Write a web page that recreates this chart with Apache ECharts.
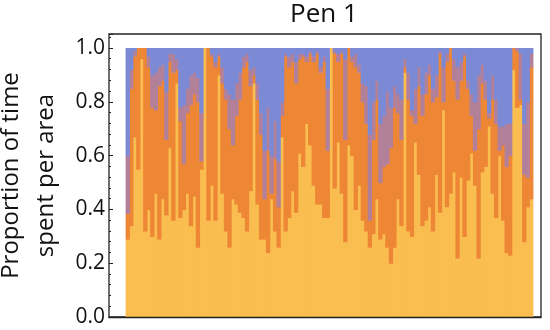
<!DOCTYPE html>
<html>
<head>
<meta charset="utf-8">
<script src="https://cdn.jsdelivr.net/npm/echarts@6/dist/echarts.min.js"></script>
<style>html,body{margin:0;padding:0;background:#fff}#c{width:550px;height:330px}</style>
</head>
<body>
<div id="c"></div>
<script>
// cumulative tops per bar: yellow top, orange top, mauve top; blue fills to 1.0
const yellowTop = [.29,.34,.67,.55,.96,.32,.40,.30,.46,.29,.44,.38,.63,.36,.87,.37,.40,.46,.34,.45,.26,.55,1.0,
 .36,.49,.36,.90,.46,.32,.26,.44,.42,.39,.37,.32,.47,.87,.42,.29,.29,.24,.44,.32,.26,.67,.32,.37,.47,.39,.61,.56,.72,.64,.49,.42,.42,.37,.37,1.0,
 .48,.65,.46,.28,.64,.60,.40,.49,.36,.32,.26,.31,.44,.29,.31,.26,.20,.26,.44,.34,.91,.32,.30,.65,.53,.34,.36,.41,.32,
 .53,.39,.77,.41,.46,.54,.22,.52,.30,.51,.61,.49,.22,.54,.56,.71,.46,.37,.60,.36,.24,.23,.92,.78,.79,.28,.41,.44];
const orangeTop = [.385,.85,.97,1.0,1.0,1.0,.93,.78,.77,.86,.88,.66,.95,.91,.92,.73,.57,.76,.79,.83,.80,.58,1.0,
 1.0,.97,.93,.97,.87,.81,.70,.64,.75,.81,.93,.95,.86,.90,.81,.68,.44,.62,.46,.59,.41,.75,.97,.93,.95,.87,.96,.97,.95,.98,.95,.98,.91,.95,.62,1.0,
 .98,.95,.98,.66,1.0,.95,.93,.91,.80,.72,.36,.66,.81,.50,.56,.57,.63,.78,.76,.66,.93,.81,.75,.72,.86,.75,.83,.90,.80,
 .82,.98,.80,.95,1.0,.88,.81,.88,.97,.85,.75,.62,.70,.87,.81,.74,.81,.72,.62,.64,.56,.60,1.0,.99,.81,.53,.52,.93];
const mauveTop = [.60,.92,.99,1.0,1.0,1.0,.97,.90,.91,.93,.94,.84,.98,.98,.96,.78,.79,.85,.90,.91,.89,.76,1.0,
 1.0,.98,.95,.98,.93,.85,.83,.81,.87,.91,.97,.98,.92,.93,.87,.76,.62,.78,.60,.73,.58,.80,.98,.97,.98,.95,.98,.98,.97,.99,.97,.99,.93,.97,.85,1.0,
 .99,.98,.99,.96,1.0,.97,.98,.94,.87,.86,.68,.80,.88,.72,.75,.84,.78,.86,.83,.81,.96,.91,.77,.85,.93,.83,.91,.94,.85,
 .90,.99,.93,.98,1.0,.96,.93,.95,.98,.88,.83,.80,.90,.94,.88,.76,.90,.81,.71,.71,.72,.72,1.0,1.0,.98,.72,.80,.98];
const seriesNames = ['Area A','Area B','Area C','Area D'];
const yTicks = [0,0.2,0.4,0.6,0.8,1.0];

const n = yellowTop.length;
const categories = Array.from({length:n}, (_,i)=>String(i+1));
// each layer: [barIndex, start, end] built from the cumulative arrays
const bounds = [() => 0, i => yellowTop[i], i => orangeTop[i], i => mauveTop[i], () => 1];
const layers = [0,1,2,3].map(k => {
  const out = [];
  for (let i=0;i<n;i++) out.push([i, bounds[k](i), bounds[k+1](i)]);
  return out;
});
const colors = ['#F9BD50','#EE8735','#B3809A','#7C8AD5'];
const font = 'Open Sans';
const YMAX = 1.052;

function makeRender(color, k){
  return function(params, api){
    const x = api.value(0), s = api.value(1), e = api.value(2);
    if (!(e > s)) return null;
    const p0 = api.coord([x, s]);
    const p1 = api.coord([x, e]);
    const w = api.size([1, 0])[0];
    const ext = k > 0 ? 0.6 : 0;
    return {type:'rect', silent:true,
      shape:{x: p0[0] - w/2 - 0.4, y: p1[1], width: w + 0.8, height: (p0[1] - p1[1]) + ext},
      style:{fill: color}};
  };
}

const chart = echarts.init(document.getElementById('c'), null, {renderer:'canvas'});
chart.setOption({
  animation:false,
  backgroundColor:'#fff',
  title:{text:'Pen 1', left:324, top:2, textAlign:'center', padding:0,
    textStyle:{fontFamily:font, fontSize:26, fontWeight:'normal', color:'#111'}},
  grid:[
    {left:109, right:9, top:34, bottom:13, show:true, borderColor:'#222', borderWidth:1.3,
      backgroundColor:'rgba(0,0,0,0)', containLabel:false, outerBoundsMode:'none'},
    {left:126, right:17, top:34, bottom:13, containLabel:false, outerBoundsMode:'none'}
  ],
  xAxis:[
    {gridIndex:0, type:'value', min:0, max:1, z:10,
      axisLine:{show:true, onZero:false, lineStyle:{color:'#222', width:1.3}},
      axisTick:{show:false}, axisLabel:{show:false}, splitLine:{show:false}},
    {gridIndex:1, type:'category', data:categories, boundaryGap:true, show:false}
  ],
  yAxis:[
    {gridIndex:0, type:'value', min:0, max:YMAX, interval:0.2,
      name:'Proportion of time\nspent per area', nameLocation:'middle', nameRotate:90, nameGap:45,
      nameTextStyle:{fontFamily:font, fontSize:24, color:'#111', lineHeight:35},
      axisLine:{show:false, onZero:false},
      axisTick:{show:true, inside:true, length:4, lineStyle:{color:'#222', width:1}},
      minorTick:{show:true, splitNumber:5, length:2, lineStyle:{color:'#222', width:1}},
      axisLabel:{fontFamily:font, fontSize:21, color:'#111', margin:4, showMaxLabel:false,
        formatter: v => (yTicks.some(t=>Math.abs(t-v)<1e-6) ? v.toFixed(1) : '')},
      splitLine:{show:false}},
    {gridIndex:1, type:'value', min:0, max:YMAX, show:false, splitLine:{show:false}}
  ],
  series: layers.map((d,k)=>({
    type:'custom', name:seriesNames[k], data:d, xAxisIndex:1, yAxisIndex:1,
    encode:{x:0, y:[1,2]}, renderItem: makeRender(colors[k], k), clip:false,
    z:2+k, silent:true, itemStyle:{color:colors[k]}
  }))
});
</script>
</body>
</html>
